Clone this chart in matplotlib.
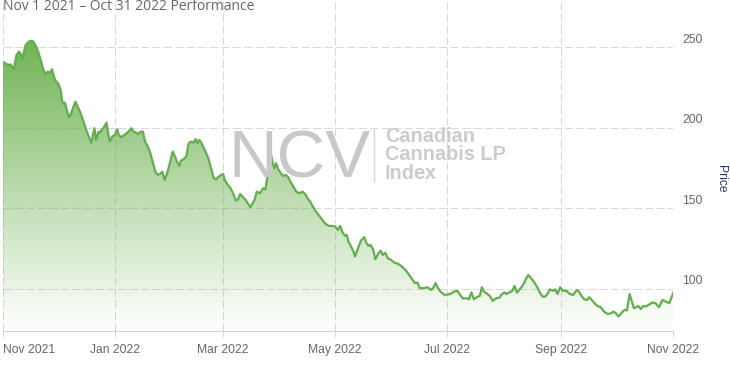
import numpy as np
import matplotlib
matplotlib.use("Agg")
import matplotlib.pyplot as plt
import matplotlib.dates as mdates
import matplotlib.transforms as mtransforms
from matplotlib.patches import Polygon

# days since Nov 1 2021
day = [0.0, 3.0, 4.3, 6.0, 7.5, 8.9, 9.6, 10.7, 12.5, 14.2, 15.5, 16.7, 18.2, 19.6,
       20.9, 22.1, 23.2, 24.4, 25.7, 26.8, 27.5, 28.5, 30.3, 31.6, 32.4, 33.3, 33.9,
       35.1, 36.0, 36.9, 38.2, 39.6, 41.0, 42.3, 44.0, 45.3, 46.7, 48.2, 49.0, 49.9,
       50.8, 52.1, 53.0, 53.8, 54.7, 55.7, 56.5, 57.4, 58.3, 59.6, 61.0,
       62.3, 63.2, 64.4, 66.2, 68.5, 70.0, 71.3, 72.6, 73.7, 75.0, 76.3, 77.5, 78.8,
       80.1, 81.6, 83.1, 84.4, 85.7, 86.9, 88.1, 89.4, 91.0, 92.5, 93.8, 94.8, 96.1,
       97.0, 98.4, 99.9, 101.2, 102.6, 103.7, 105.0, 106.0, 106.9, 107.8, 109.3,
       110.6, 111.9, 113.4, 114.9, 116.2, 117.5, 119.0, 120.0,
       120.8, 122.2, 124.0, 125.2, 127.0, 128.2, 129.2, 130.5, 132.2, 134.8, 137.1,
       138.3, 140.0, 141.8, 143.0, 144.1, 145.3, 146.2, 147.0, 147.9, 148.8, 150.0,
       151.4, 152.8, 154.0, 155.2, 156.6, 158.0, 159.8, 161.5, 163.2, 165.0, 166.2,
       167.4, 168.8, 170.5, 172.3, 174.0, 175.8, 177.6, 179.7, 181.0,
       182.4, 183.7, 185.0, 186.4, 187.3, 188.2, 189.6, 190.9, 191.7, 193.2, 195.0,
       196.8, 198.0, 199.2, 200.3, 201.6, 202.8, 204.3, 205.7, 206.9, 208.2, 209.6,
       211.4, 213.2, 215.3, 217.2, 219.5, 221.2, 223.1, 224.3, 225.7, 227.1, 229.3,
       231.1, 233.3, 234.7, 235.6, 236.5, 238.3, 240.5,
       243.7, 245.5, 247.4, 248.6, 250.4, 252.9, 253.8, 255.1, 256.5, 258.4, 259.7,
       260.8, 262.0, 263.9, 265.4, 266.7, 268.5, 270.3, 271.8, 273.1, 274.0, 275.9,
       277.4, 278.6, 279.9, 281.4, 283.2, 284.7, 286.0, 287.3, 289.1, 291.0, 292.4,
       293.9, 295.2, 296.5, 297.9, 299.4, 300.7, 302.0, 303.4,
       305.0, 306.8, 308.7, 310.5, 312.4, 313.7, 315.0, 316.5, 318.0, 319.3, 320.6,
       322.1, 323.6, 325.5, 327.3, 329.2, 331.1, 332.4, 333.7, 335.2, 337.0, 338.5,
       339.8, 341.2, 342.3, 343.6, 344.9, 346.0, 347.3, 348.6, 350.1, 351.6, 353.5,
       355.3, 357.2, 359.1, 360.9, 362.8, 365.0]

price = [241.0, 239.0, 239.4, 236.3, 245.2, 247.3, 246.3, 243.2, 251.4, 253.5, 254.1,
         253.5, 250.4, 246.3, 241.0, 236.3, 233.4, 234.8, 234.2, 236.3, 233.4, 229.7,
         227.2, 223.5, 216.2, 214.8, 215.6, 210.0, 206.5, 207.9, 212.1, 216.2, 212.7,
         209.4, 203.8, 199.1, 194.9, 190.7, 194.9, 199.7, 192.4, 197.6, 197.0, 198.6,
         199.7, 201.7, 203.2, 196.6, 191.4, 194.5, 195.5,
         199.1, 195.5, 194.1, 195.5, 197.6, 199.7, 197.6, 197.0, 196.1, 197.6, 197.6,
         191.4, 188.7, 185.2, 178.9, 172.7, 170.7, 171.3, 172.7, 167.6, 171.3, 178.0,
         185.2, 182.1, 178.9, 176.3, 179.6, 180.4, 182.1, 190.4, 191.4, 190.7, 192.9,
         190.4, 192.4, 191.4, 187.9, 184.5, 181.1, 174.8, 168.6, 168.0, 169.6, 170.7,
         171.3,
         167.6, 165.1, 162.4, 159.7, 154.7, 155.6, 158.9, 157.2, 155.2, 150.6, 155.2,
         160.3, 159.3, 162.4, 161.8, 169.6, 176.9, 182.5, 178.0, 174.8, 178.0, 174.2,
         171.7, 170.0, 170.7, 169.6, 166.5, 163.8, 160.3, 159.3, 160.3, 158.3, 155.6,
         154.1, 151.0, 147.9, 145.2, 142.7, 140.2, 139.0, 139.0, 138.6,
         136.5, 139.0, 134.9, 132.8, 133.4, 129.3, 126.2, 123.1, 120.0, 124.5, 129.9,
         132.0, 128.3, 126.6, 127.2, 124.5, 118.3, 121.6, 123.6, 121.0, 122.4, 118.9,
         117.9, 116.2, 115.4, 113.8, 111.3, 108.6, 105.5, 103.5, 103.8, 100.3, 100.3,
         100.9, 99.2, 101.2, 103.5, 101.2, 98.1, 96.1,
         96.7, 98.1, 98.7, 96.7, 94.0, 94.0, 93.4, 97.7, 93.4, 95.1, 95.5,
         100.9, 98.1, 96.7, 95.1, 92.4, 94.0, 94.4, 96.7, 97.7, 96.7, 97.7,
         98.7, 101.8, 97.5, 99.6, 102.2, 105.8, 108.5, 107.0, 104.3, 100.9, 97.5,
         95.1, 95.1, 96.7, 99.6, 98.7, 99.6, 96.7, 100.9,
         98.7, 98.7, 96.7, 96.1, 99.2, 98.1, 95.5, 93.4, 93.0, 94.7, 93.0,
         91.0, 89.3, 88.5, 85.8, 84.3, 84.7, 85.8, 84.7, 82.7, 85.2, 86.9,
         86.5, 96.7, 92.5, 87.8, 88.5, 89.3, 87.3, 89.3, 88.9, 90.0, 91.4,
         91.0, 88.5, 93.0, 92.0, 91.0, 97.5]

month_ticks = ["2021-11-01", "2022-01-01", "2022-03-01", "2022-05-01",
               "2022-07-01", "2022-09-01", "2022-11-01"]
month_labels = ["Nov 2021", "Jan 2022", "Mar 2022", "May 2022",
                "Jul 2022", "Sep 2022", "Nov 2022"]
y_ticks = [100, 150, 200, 250]

line_color = "#63ad4e"
grid_color = "#d9d9d9"
axis_color = "#ccd6eb"
label_color = "#666666"

plt.rcParams["font.family"] = ["Liberation Sans", "DejaVu Sans"]

start = mdates.date2num(np.datetime64("2021-11-01"))
x = start + np.array(day)
y = np.array(price)
ymin, ymax = 73.9, 279.4

fig = plt.figure(figsize=(7.3, 3.65), dpi=100)
ax = fig.add_axes([2.7 / 730, 1 - 330.7 / 365, 670.6 / 730, 330.7 / 365])
ax.set_xlim(start, mdates.date2num(np.datetime64("2022-11-01")))
ax.set_ylim(ymin, ymax)

# watermark
fig.text(228 / 730, 1 - 177 / 365, "NCV", fontsize=48.5, color="#c8c8c8",
         ha="left", va="baseline", zorder=0)
fig.add_artist(plt.Line2D([374 / 730, 374 / 730], [1 - 128 / 365, 1 - 181 / 365],
                          color="#d6d6d6", lw=1, zorder=0))
for i, txt in enumerate(["Canadian", "Cannabis LP", "Index"]):
    fig.text(385 / 730, 1 - (141.5 + i * 18.5) / 365, txt, fontsize=14.3,
             weight="bold", color="#cccccc", ha="left", va="baseline", zorder=0)

# gradient fill under the line
poly_xy = np.column_stack([np.r_[x, x[-1], x[0]], np.r_[y, ymin, ymin]])
clip = Polygon(poly_xy, closed=True, facecolor="none", edgecolor="none")
ax.add_patch(clip)
top = y.max()
grad = np.zeros((256, 1, 4))
grad[:, 0, :3] = matplotlib.colors.to_rgb("#6ab04c")
grad[:, 0, 3] = np.linspace(0.95, 0.0, 256)
im = ax.imshow(grad, extent=[x[0], x[-1], ymin, top], origin="upper",
               aspect="auto", zorder=1, interpolation="bilinear")
im.set_clip_path(clip)

ax.plot(x, y, color=line_color, lw=1.6, zorder=3, solid_joinstyle="round")

# axes styling
for s in ["top", "left", "right"]:
    ax.spines[s].set_visible(False)
ax.spines["bottom"].set_color(axis_color)
ax.spines["bottom"].set_linewidth(0.75)
ax.spines["bottom"].set_zorder(4)

tick_pos = mdates.date2num(np.array(month_ticks, dtype="datetime64[D]"))
ax.set_xticks(tick_pos)
ax.set_xticklabels(month_labels)
ax.tick_params(axis="x", direction="out", length=4.3, width=0.75, color=axis_color,
               labelsize=8.7, labelcolor=label_color, pad=5)
ax.get_xticklabels()[0].set_ha("left")

# y labels sit a little above their grid lines, right of the plot
ax.set_yticks(y_ticks)
ax.tick_params(axis="y", length=0, left=False, labelleft=False)
lab_tr = mtransforms.blended_transform_factory(ax.transAxes, ax.transData) + \
    mtransforms.ScaledTranslation(9 / 100, 7.5 / 100, fig.dpi_scale_trans)
for v in y_ticks:
    ax.text(1, v, str(v), transform=lab_tr, fontsize=8.7, color=label_color,
            ha="left", va="center", clip_on=False)

ax.grid(True, color=grid_color, lw=0.75, linestyle=(0, (8, 3)), zorder=0)
ax.set_axisbelow(True)
ax.patch.set_alpha(0)

fig.text(3 / 730, 1 - 10.5 / 365, "Nov 1 2021 \u2013 Oct 31 2022 Performance",
         fontsize=10, color=label_color, ha="left", va="baseline",
         family=["Open Sans", "DejaVu Sans"])
fig.text(721 / 730, 1 - 178.5 / 365, "Price", fontsize=8.7, color="#2a3470",
         rotation=270, ha="center", va="center")

fig.savefig("out.png", dpi=100)
